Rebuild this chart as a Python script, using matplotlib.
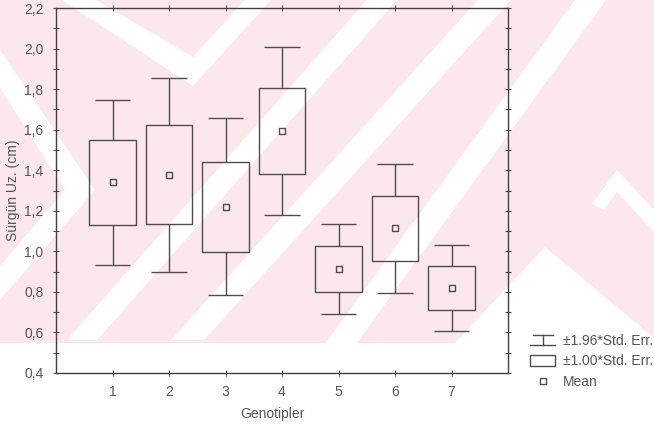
import numpy as np
import matplotlib
matplotlib.use('Agg')
import matplotlib.pyplot as plt
from matplotlib.patches import Rectangle, Polygon
from matplotlib.lines import Line2D
from matplotlib.legend_handler import HandlerBase
from matplotlib.ticker import MultipleLocator, FuncFormatter

# values
genotypes = [1, 2, 3, 4, 5, 6, 7]
means = [1.34, 1.377, 1.22, 1.593, 0.912, 1.113, 0.82]
std_err = [0.208, 0.244, 0.222, 0.2115, 0.114, 0.1615, 0.109]
legend_labels = ['±1.96*Std. Err.', '±1.00*Std. Err.', 'Mean']

W, H = 654, 425
INK = '#4d4d4d'
TXT = '#555555'
PINK = '#fce8ec'

plt.rcParams['font.family'] = ['Liberation Sans', 'DejaVu Sans']

fig = plt.figure(figsize=(W / 100, H / 100), dpi=100)
fig.patch.set_facecolor('white')


def px(pts):
    return [(x / W, 1 - y / H) for x, y in pts]


# scanned watermark in the background (pink with white diagonal bands)
fig.add_artist(Rectangle((0, 1 - 343 / H), 1, 343 / H, transform=fig.transFigure,
                         facecolor=PINK, edgecolor='none', zorder=-10))
white_bands = [
    [(67, 340), (97, 340), (397, 0), (367, 0)],
    [(171, 340), (204, 340), (511, 0), (478, 0)],
    [(325, 344), (356, 344), (606, 0), (575, 0)],
    [(62, 0), (193, 86), (271, 0), (245, 0), (193, 57), (96, 0)],
    [(0, 50), (95, 190), (0, 300), (0, 266), (65, 190), (0, 88)],
    [(454, 344), (545, 247), (654, 338), (654, 344)],
    [(592, 204), (617, 170), (654, 210), (654, 232), (617, 192), (604, 210)],
]
for shape in white_bands:
    fig.add_artist(Polygon(px(shape), closed=True, transform=fig.transFigure,
                           facecolor='white', edgecolor='none', zorder=-9))

ax = fig.add_axes([56 / W, 1 - 373 / H, 452 / W, 365 / H])
ax.set_facecolor('none')

box_w = 0.82
cap_w = 0.62
for g, m, se in zip(genotypes, means, std_err):
    ax.add_patch(Rectangle((g - box_w / 2, m - se), box_w, 2 * se,
                           fill=False, edgecolor=INK, linewidth=1.0))
    ax.vlines(g, m + se, m + 1.96 * se, color=INK, linewidth=1.0)
    ax.vlines(g, m - 1.96 * se, m - se, color=INK, linewidth=1.0)
    ax.hlines([m + 1.96 * se, m - 1.96 * se], g - cap_w / 2, g + cap_w / 2,
              color=INK, linewidth=1.0)
ax.plot(genotypes, means, linestyle='none', marker='s', markersize=5,
        markerfacecolor='none', markeredgecolor=INK, markeredgewidth=1.0)

ax.set_xlim(0, 8)
ax.set_ylim(0.4, 2.2)
ax.set_xticks(genotypes)
ax.yaxis.set_major_locator(MultipleLocator(0.2))
ax.yaxis.set_minor_locator(MultipleLocator(0.1))
ax.yaxis.set_major_formatter(FuncFormatter(lambda v, _: f'{v:.1f}'.replace('.', ',')))
ax.tick_params(which='both', direction='inout', length=4, width=0.8, color=INK,
               top=True, right=True, labelsize=10, labelcolor=TXT)
ax.tick_params(axis='x', pad=7)
ax.tick_params(axis='y', pad=7)
for s in ax.spines.values():
    s.set_color('#404040')
    s.set_linewidth(1.0)

ax.set_xlabel('Genotipler', fontsize=10, color=TXT)
ax.xaxis.set_label_coords(0.478, -0.092)
ax.set_ylabel('Sürgün Uz. (cm)', fontsize=10, color=TXT)
ax.yaxis.set_label_coords(-0.08, 0.5)


class SymbolHandler(HandlerBase):
    def __init__(self, kind):
        super().__init__()
        self.kind = kind

    def create_artists(self, legend, orig_handle, xdescent, ydescent,
                       width, height, fontsize, trans):
        x0 = -xdescent
        x1 = x0 + width
        xm = (x0 + x1) / 2
        y0 = -ydescent
        y1 = y0 + height
        kw = dict(color=INK, linewidth=1.0, transform=trans)
        if self.kind == 'whisker':
            return [Line2D([x0 + 0.1 * width, x1 - 0.1 * width], [y1, y1], **kw),
                    Line2D([x0, x1], [y0, y0], **kw),
                    Line2D([xm, xm], [y0, y1], **kw)]
        if self.kind == 'box':
            return [Rectangle((x0, y0 - 0.1 * height), width, 1.2 * height, fill=False,
                              edgecolor=INK, linewidth=1.0, transform=trans)]
        return [Line2D([xm], [(y0 + y1) / 2], linestyle='none', marker='s', markersize=5,
                       markerfacecolor='none', markeredgecolor=INK,
                       markeredgewidth=1.0, transform=trans)]


handles = [Line2D([], []), Line2D([], []), Line2D([], [])]
hmap = {handles[0]: SymbolHandler('whisker'),
        handles[1]: SymbolHandler('box'),
        handles[2]: SymbolHandler('mean')}
leg = fig.legend(handles, legend_labels, handler_map=hmap, loc='upper left',
                 bbox_to_anchor=(530 / W, 1 - 334 / H), frameon=False,
                 borderpad=0, borderaxespad=0, handlelength=1.8, handletextpad=0.6,
                 labelspacing=0.45, fontsize=10)
for t in leg.get_texts():
    t.set_color(TXT)

fig.savefig('out.png', dpi=100)
